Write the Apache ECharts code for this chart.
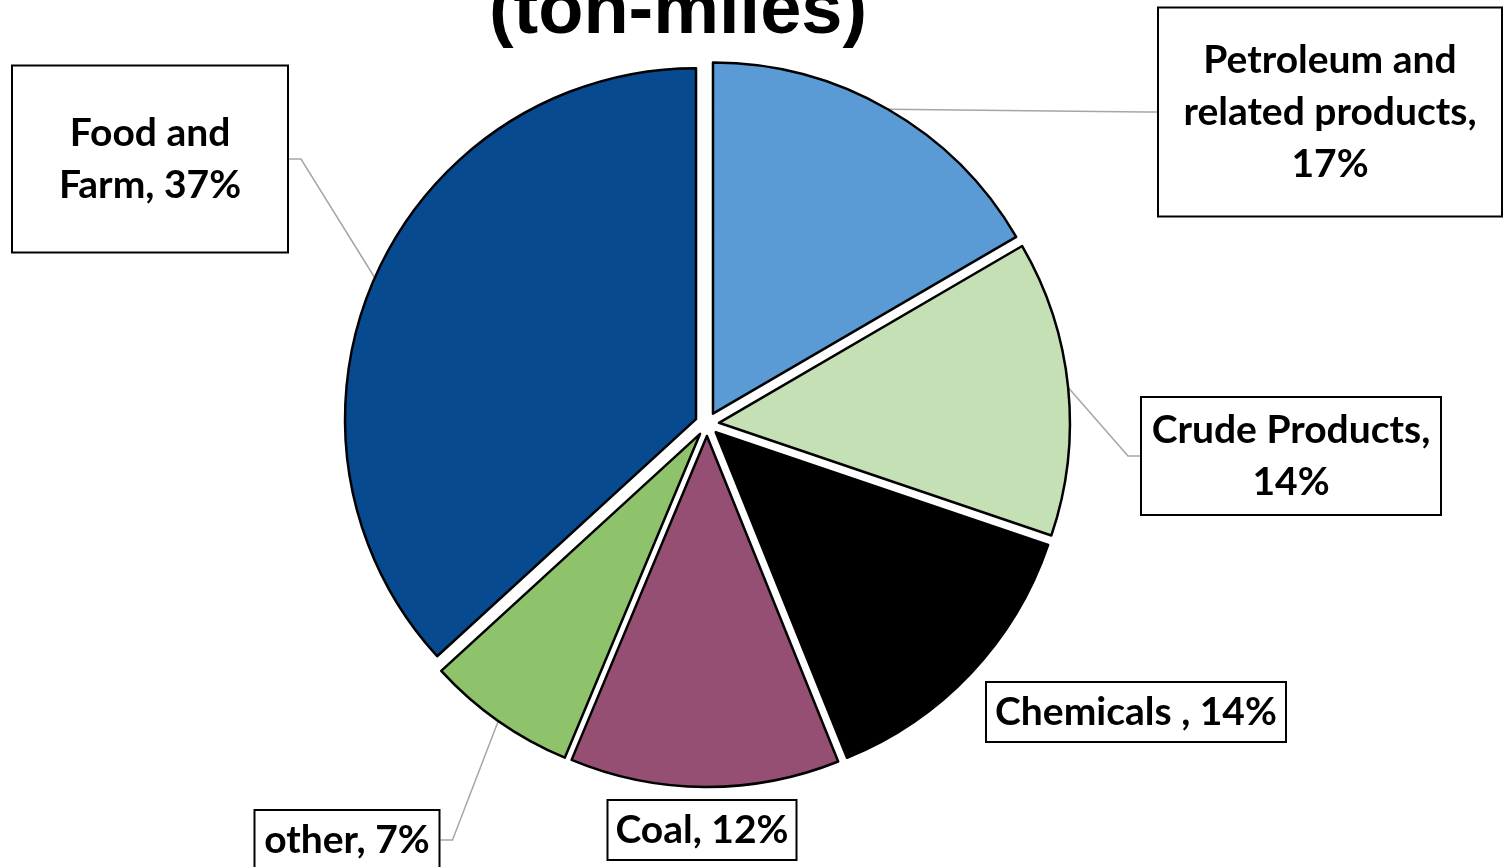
<!DOCTYPE html>
<html>
<head>
<meta charset="utf-8">
<script src="https://cdn.jsdelivr.net/npm/echarts@6/dist/echarts.min.js"></script>
<style>
	html, body { margin: 0; padding: 0; background: #fff; }
	#chart { width: 1503px; height: 867px; }
</style>
</head>
<body>
<div id="chart"></div>
<script>
	// data (slice angles), labels show the rounded share
	var categories = ['Petroleum and\nrelated products', 'Crude Products', 'Chemicals ', 'Coal', 'other', 'Food and\nFarm'];
	var shares = [16.6, 13.6, 13.7, 12.4, 6.9, 36.8]; // percent of ton-miles
	var titleText = '(ton-miles)';

	var sliceColors = ['#5B9BD5', '#C5E0B4', '#000000', '#954F72', '#8FC36B', '#074A8F'];
	var lineH = 52;
	var cx = 707, cy = 424, R = 351, explode = 12;
	// label boxes: centre, outer size, break before value, leader line
	var boxes = [
		{x: 1330, y: 112, w: 344, h: 209, br: true, line: true},
		{x: 1291, y: 456, w: 300, h: 118, br: true, line: true},
		{x: 1136, y: 712, w: 300, h: 60, br: false, line: false},
		{x: 702, y: 830, w: 189, h: 60, br: false, line: false},
		{x: 347, y: 840, w: 185, h: 60, br: false, line: true},
		{x: 150, y: 159, w: 276, h: 187, br: false, line: true}
	];

	function labelText(i) {
		return categories[i] + (boxes[i].br ? ',\n' : ', ') + Math.round(shares[i]) + '%';
	}

	var total = shares.reduce(function(a, b) { return a + b; }, 0);

	// one pie per slice so every slice can be pulled out along its mid angle
	var series = [];
	var acc = 0;
	shares.forEach(function(v, i) {
		var mid = (acc + v / 2) / total * Math.PI * 2; // clockwise from top
		acc += v;
		var b = boxes[i];
		var lines = labelText(i).split('\n').length;
		var vp = Math.max(0, (b.h - 2 - lines * lineH) / 2);
		series.push({
			type: 'pie',
			center: [cx + explode * Math.sin(mid), cy - explode * Math.cos(mid)],
			radius: R,
			startAngle: 90,
			clockwise: true,
			avoidLabelOverlap: false,
			emphasis: { disabled: true },
			label: {
				show: true,
				position: 'outside',
				formatter: function(p) { return labelText(p.dataIndex); },
				fontFamily: 'Lato',
				fontWeight: 'bold',
				fontSize: 39,
				lineHeight: lineH,
				color: '#000',
				align: 'center',
				overflow: 'none',
				backgroundColor: '#fff',
				borderColor: '#000',
				borderWidth: 2,
				width: b.w - 2,
				padding: [vp, 0, vp, 0]
			},
			labelLine: {
				show: b.line,
				length: 12,
				length2: 12,
				lineStyle: { color: '#A6A6A6', width: 1.5 }
			},
			labelLayout: function(p) {
				var bx = boxes[p.dataIndex];
				return { x: bx.x, y: bx.y, align: 'center', verticalAlign: 'middle' };
			},
			data: categories.map(function(name, j) {
				var item = { name: name, value: shares[j] };
				if (j === i) {
					item.itemStyle = { color: sliceColors[j], borderColor: '#000', borderWidth: 2.5 };
				} else {
					item.itemStyle = { color: 'rgba(0,0,0,0)', borderWidth: 0 };
					item.label = { show: false };
					item.labelLine = { show: false };
				}
				return item;
			})
		});
	});

	var myChart = echarts.init(document.getElementById('chart'));
	myChart.setOption({
		animation: false,
		title: {
			text: titleText,
			left: 673,
			top: -29,
			textAlign: 'center',
			textStyle: {
				fontFamily: 'Liberation Sans',
				fontWeight: 'bold',
				fontSize: 74,
				color: '#000'
			}
		},
		series: series
	});
</script>
</body>
</html>
